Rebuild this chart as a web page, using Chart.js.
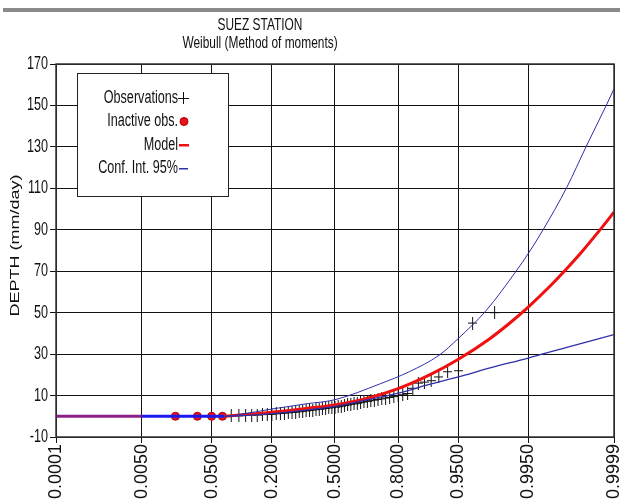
<!DOCTYPE html>
<html><head><meta charset="utf-8">
<script src="https://cdn.jsdelivr.net/npm/chart.js@4.4.0/dist/chart.umd.min.js"></script>
<style>html,body{margin:0;padding:0;background:#fff;} canvas{display:block;}</style>
</head><body>
<canvas id="c" width="620" height="502"></canvas>
<script>
// ---- data ----
const titleLines = ['SUEZ STATION', 'Weibull (Method of moments)'];
const yAxisTitle = 'DEPTH (mm/day)';
const xTickLabels = ['0.0001','0.0050','0.0500','0.2000','0.5000','0.8000','0.9500','0.9950','0.9999'];
const yTickValues = [-10,10,30,50,70,90,110,130,150,170];
const legendLabels = ['Observations', 'Inactive obs.', 'Model', 'Conf. Int. 95%'];

const obsProb = [0.0833,0.1000,0.1167,0.1333,0.1500,0.1667,0.1833,0.2000,0.2167,0.2333,
  0.2500,0.2667,0.2833,0.3000,0.3167,0.3333,0.3500,0.3667,0.3833,0.4000,
  0.4167,0.4333,0.4500,0.4667,0.4833,0.5000,0.5167,0.5333,0.5500,0.5667,
  0.5833,0.6000,0.6167,0.6333,0.6500,0.6667,0.6833,0.7000,0.7167,0.7333,
  0.7500,0.7667,0.7833,0.8000,0.8167,0.8333,0.8500,0.8667,0.8833,0.9000,
  0.9167,0.9333,0.9500,0.9667,0.9833];
const obsDepth = [0.2,0.3,0.4,0.5,0.6,0.8,0.9,1.0,1.2,1.4,
  1.5,1.7,1.9,2.0,2.2,2.4,2.6,2.8,3.0,3.2,
  3.4,3.6,3.8,4.0,4.2,4.4,4.6,4.9,5.2,5.5,
  5.8,6.0,6.3,6.6,6.9,7.2,7.5,7.8,8.1,8.4,
  8.8,9.1,9.5,10.0,10.4,11.0,13.5,16.0,16.5,17.2,
  19.0,21.5,22.0,45.0,50.0];
const inactiveProb = [0.0167,0.0333,0.0500,0.0667];
const inactiveDepth = [0,0,0,0];

const modelProb  = [0.0001,0.005,0.05,0.07,0.1,0.2,0.35,0.5,0.65,0.8,0.9,0.95,0.98,0.99,0.995,0.998,0.999,0.9995,0.9998,0.9999];
const modelDepth = [0,0,0,0,0.6,2.0,3.8,5.5,8.2,13.3,20.3,27.5,37.2,44.9,52.7,63.2,71.3,79.4,90.3,98.5];
const upperProb  = [0.0001,0.005,0.05,0.07,0.1,0.2,0.35,0.5,0.7224,0.8388,0.9176,0.95,0.978,0.9921,0.995,0.99723,0.999,0.99959,0.99985,0.9999];
const upperDepth = [0,0,0,0,0.8,3.5,6,8,15.5,21.5,29.5,37.6,51,70,78.5,90,110.5,130,150,158];
const lowerProb  = [0.0001,0.005,0.05,0.07,0.1,0.2,0.35,0.5,0.65,0.8,0.9,0.95,0.98,0.995,0.999,0.9999];
const lowerDepth = [0,0,0,0,0.2,1.3,3.0,4.8,7.6,11.2,15.6,19.0,23.2,28.1,33.3,39.4];

// ---- normal probability (probit) transform for the x scale ----
function probit(p){
  const a=[-3.969683028665376e+01,2.209460984245205e+02,-2.759285104469687e+02,1.383577518672690e+02,-3.066479806614716e+01,2.506628277459239e+00];
  const b=[-5.447609879822406e+01,1.615858368580409e+02,-1.556989798598866e+02,6.680131188771972e+01,-1.328068155288572e+01];
  const c=[-7.784894002430293e-03,-3.223964580411365e-01,-2.400758277161838e+00,-2.549732539343734e+00,4.374664141464968e+00,2.938163982698783e+00];
  const d=[7.784695709041462e-03,3.224671290700398e-01,2.445134137142996e+00,3.754408661907416e+00];
  const pl=0.02425, ph=1-pl; let q,r;
  if(p<pl){q=Math.sqrt(-2*Math.log(p));return (((((c[0]*q+c[1])*q+c[2])*q+c[3])*q+c[4])*q+c[5])/((((d[0]*q+d[1])*q+d[2])*q+d[3])*q+1);}
  if(p<=ph){q=p-0.5;r=q*q;return (((((a[0]*r+a[1])*r+a[2])*r+a[3])*r+a[4])*r+a[5])*q/(((((b[0]*r+b[1])*r+b[2])*r+b[3])*r+b[4])*r+1);}
  q=Math.sqrt(-2*Math.log(1-p));return -(((((c[0]*q+c[1])*q+c[2])*q+c[3])*q+c[4])*q+c[5])/((((d[0]*q+d[1])*q+d[2])*q+d[3])*q+1);
}
const pts = (ps, vs) => ps.map((p,i)=>({x: probit(p), y: vs[i]}));

// cross marker
const crossImg = document.createElement('canvas');
crossImg.width = 9; crossImg.height = 13;
(function(){ const g = crossImg.getContext('2d'); g.fillStyle='#111';
  g.fillRect(4,0,1,13); g.fillRect(0,6,9,1); })();

const BLUE = '#2f2fa8';
const zeroLimit = probit(0.005) + 1e-6;
const isZeroSeg = c => c.p0.parsed.y === 0 && c.p1.parsed.y === 0;
const F = '"Liberation Sans", Arial, sans-serif';

function sText(ctx, txt, x, y, align, font, sx){
  ctx.save(); ctx.font = font; ctx.fillStyle = '#111';
  ctx.translate(x, y); ctx.scale(sx, 1);
  ctx.textAlign = align; ctx.textBaseline = 'middle';
  ctx.fillText(txt, 0, 0); ctx.restore();
}

const decor = {
  id: 'decor',
  beforeDraw(chart){
    const ctx = chart.ctx;
    ctx.save(); ctx.fillStyle = '#fff'; ctx.fillRect(0,0,chart.width,chart.height);
    ctx.fillStyle = '#8a8a8a'; ctx.fillRect(3, 8, 617, 4); ctx.restore();
  },
  afterDraw(chart){
    const ctx = chart.ctx, a = chart.chartArea, ys = chart.scales.y;
    ctx.save();
    ctx.strokeStyle = '#333'; ctx.lineWidth = 1.5;
    ctx.strokeRect(a.left, a.top, a.right - a.left, a.bottom - a.top);
    ctx.restore();
    // y tick labels (condensed)
    yTickValues.forEach(v => sText(ctx, String(v), a.left - 8, ys.getPixelForValue(v), 'right', '18px ' + F, 0.7));
    // y axis title (rotated, condensed)
    ctx.save(); ctx.font = '18px ' + F; ctx.fillStyle = '#111';
    ctx.translate(15, (a.top + a.bottom) / 2 - 5); ctx.scale(0.72, 1); ctx.rotate(-Math.PI / 2);
    ctx.textAlign = 'center'; ctx.textBaseline = 'middle'; ctx.fillText(yAxisTitle, 0, 0); ctx.restore();
    // titles
    sText(ctx, titleLines[0], 260, 25, 'center', '17px ' + F, 0.7);
    sText(ctx, titleLines[1], 260, 43.5, 'center', '17px ' + F, 0.7);
    // legend box
    ctx.save();
    ctx.fillStyle = '#fff'; ctx.fillRect(77, 73, 151, 123);
    ctx.strokeStyle = '#222'; ctx.lineWidth = 1; ctx.strokeRect(77.5, 73.5, 151, 123);
    const ly = [98, 121.5, 145, 168.5];
    legendLabels.forEach((t,i)=> sText(ctx, t, 178, ly[i], 'right', '18px ' + F, 0.7));
    ctx.fillStyle = '#111'; ctx.fillRect(183, ly[0]-6, 1, 12); ctx.fillRect(178, ly[0], 11, 1);
    ctx.beginPath(); ctx.arc(184, ly[1], 4, 0, Math.PI*2); ctx.fillStyle='#e8141c'; ctx.fill();
    ctx.strokeStyle = '#b00000'; ctx.stroke();
    ctx.fillStyle = '#ee1111'; ctx.fillRect(179, ly[2]-1, 10, 2.5);
    ctx.fillStyle = BLUE; ctx.fillRect(179, ly[3]-0.5, 9, 1.5);
    ctx.restore();
  }
};

new Chart(document.getElementById('c'), {
  type: 'line',
  data: {
    datasets: [
      { label: 'Upper', data: pts(upperProb, upperDepth), borderColor: BLUE, borderWidth: 1,
        pointRadius: 0, cubicInterpolationMode: 'monotone', fill: false,
        segment: { borderColor: c => isZeroSeg(c) ? 'rgba(0,0,0,0)' : undefined } },
      { label: 'Lower', data: pts(lowerProb, lowerDepth), borderColor: BLUE, borderWidth: 1.3,
        pointRadius: 0, cubicInterpolationMode: 'monotone', fill: false,
        segment: { borderColor: c => isZeroSeg(c) ? 'rgba(0,0,0,0)' : undefined } },
      { label: 'Model', data: pts(modelProb, modelDepth), borderColor: '#f01010', borderWidth: 3,
        pointRadius: 0, cubicInterpolationMode: 'monotone', fill: false,
        segment: { borderColor: c => isZeroSeg(c) ? (c.p1.parsed.x <= zeroLimit ? '#8c2088' : '#1a1aee') : undefined } },
      { label: 'Observations', data: pts(obsProb, obsDepth), showLine: false,
        pointStyle: crossImg, pointRadius: 5 },
      { label: 'Inactive obs.', data: pts(inactiveProb, inactiveDepth), showLine: false,
        pointStyle: 'circle', pointRadius: 4, backgroundColor: '#e8141c', borderColor: '#b00000', borderWidth: 1 }
    ]
  },
  options: {
    responsive: false, animation: false, devicePixelRatio: 1,
    layout: { padding: { top: 64, right: 5, left: 0, bottom: 0 } },
    plugins: { legend: { display: false }, tooltip: { enabled: false }, title: { display: false } },
    scales: {
      x: {
        type: 'linear', min: probit(0.0001), max: probit(0.9999),
        afterBuildTicks: s => { s.ticks = xTickLabels.map(t => ({ value: probit(parseFloat(t)) })); },
        afterFit: s => { s.height = 65; s.paddingLeft = 0; s.paddingRight = 0; },
        ticks: { callback: (v, i) => xTickLabels[i], minRotation: 90, maxRotation: 90, autoSkip: false,
          padding: 1, color: '#111', font: { family: '"Liberation Sans", Arial', size: 18 } },
        grid: { color: '#111', lineWidth: 1, borderDash: [4,3], tickLength: 6, tickColor: '#111' },
        border: { display: false }
      },
      y: {
        type: 'linear', min: -10, max: 170,
        afterBuildTicks: s => { s.ticks = yTickValues.map(v => ({ value: v })); },
        afterFit: s => { s.width = 56; s.paddingTop = 0; s.paddingBottom = 0; },
        ticks: { display: false },
        grid: { color: '#111', lineWidth: 1, borderDash: [4,3], tickLength: 6, tickColor: '#111' },
        border: { display: false },
        title: { display: false }
      }
    }
  },
  plugins: [decor]
});
</script>
</body></html>
